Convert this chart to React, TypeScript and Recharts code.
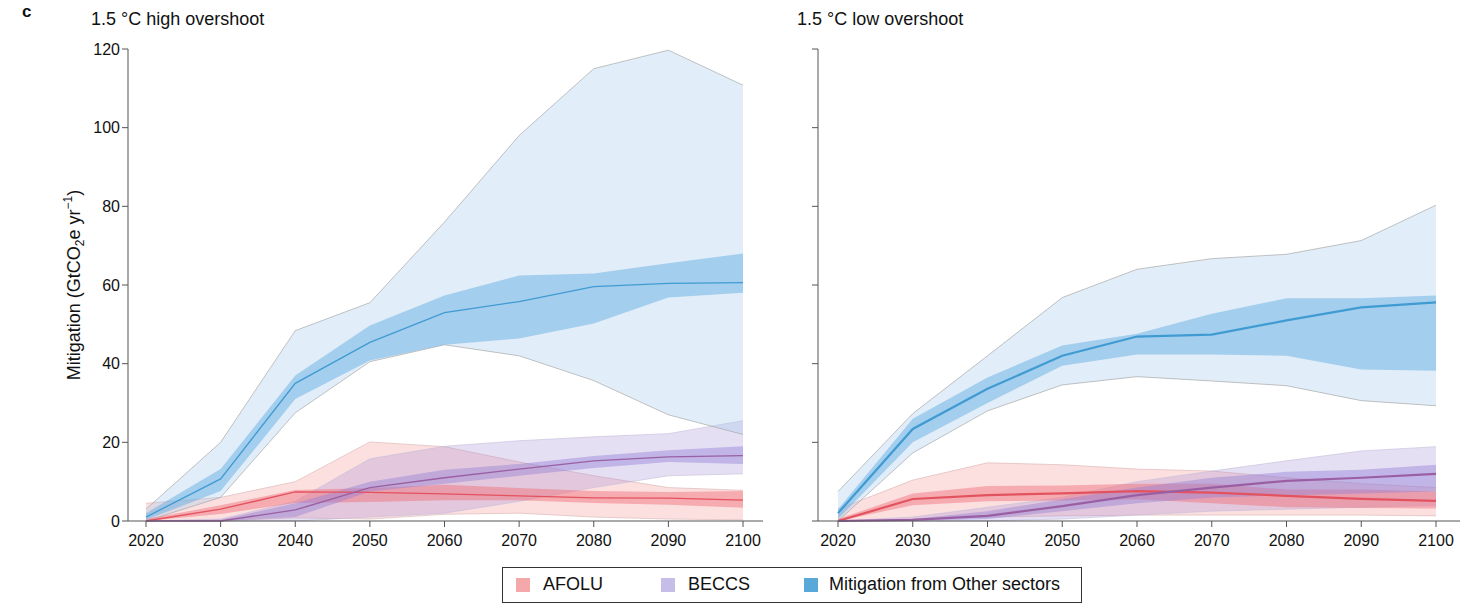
import { ComposedChart, Area, Line, XAxis, YAxis } from "recharts";

// decades shown on both panels
const years = [2020, 2030, 2040, 2050, 2060, 2070, 2080, 2090, 2100];

// 1.5 °C high overshoot
const hiOtherMin = [0, 6, 27.5, 40.5, 44.8, 42, 35.7, 27, 22];
const hiOtherMax = [3, 20, 48.4, 55.5, 76, 98, 115, 119.7, 110.8];
const hiOtherLo = [0.3, 7.6, 31, 40.8, 44.8, 46.4, 50.2, 56.8, 58];
const hiOtherHi = [2, 13.2, 37, 49.7, 57.3, 62.4, 62.9, 65.5, 68];
const hiOtherMed = [1, 10.7, 35, 45.4, 53, 55.8, 59.6, 60.4, 60.6];

const hiAfoluMin = [0, 0, 0.8, 0.5, 1.7, 2, 1, 0.5, 0.3];
const hiAfoluMax = [4.5, 6, 10, 20.1, 18.9, 15, 11.5, 8.5, 7.8];
const hiAfoluLo = [0, 1.8, 4.6, 4.8, 5.3, 5.3, 4.6, 4.1, 3.4];
const hiAfoluHi = [0.5, 4, 7.9, 8.4, 9.2, 8.4, 7.6, 7.4, 7.6];
const hiAfoluMed = [0, 3, 7.4, 7.3, 6.9, 6.4, 5.9, 5.8, 5.3];

const hiBeccsMin = [0, 0, 0, 1, 2, 5, 8.5, 11.5, 12];
const hiBeccsMax = [0, 0.5, 5, 15.8, 19, 20.4, 21.4, 22.2, 25.5];
const hiBeccsLo = [0, 0, 1, 7.5, 9.5, 11.5, 13.5, 15, 14.5];
const hiBeccsHi = [0, 0.3, 4.5, 10, 13, 14.5, 16.5, 18, 19];
const hiBeccsMed = [0, 0, 2.8, 8.5, 11, 13.2, 15.3, 16.3, 16.6];

// 1.5 °C low overshoot
const loOtherMin = [0, 17.3, 28, 34.6, 36.7, 35.6, 34.4, 30.6, 29.3];
const loOtherMax = [7.5, 27.3, 42, 56.8, 64, 66.7, 67.8, 71.3, 80.3];
const loOtherLo = [0.5, 20, 30, 39.5, 42.3, 42.3, 42, 38.5, 38.2];
const loOtherHi = [3, 26, 36.5, 44.6, 47.6, 52.7, 56.6, 56.6, 57.3];
const loOtherMed = [2, 23.4, 33.6, 42, 46.9, 47.4, 51, 54.3, 55.6];

const loAfoluMin = [0, 0.5, 1, 1.3, 1.5, 1.5, 1.5, 1.5, 1.3];
const loAfoluMax = [3, 10.4, 14.8, 14.3, 13.2, 12.7, 11, 9.5, 8.5];
const loAfoluLo = [0, 4, 5, 5.2, 5.5, 4.5, 3.5, 3.3, 3.2];
const loAfoluHi = [0.5, 7, 8.9, 9, 9.5, 9.5, 8, 8, 7.5];
const loAfoluMed = [0, 5.6, 6.6, 7, 7.6, 7.2, 6.4, 5.6, 5.1];

const loBeccsMin = [0, 0, 0, 0.5, 1.5, 2.5, 3, 3.5, 4];
const loBeccsMax = [0, 1, 3.5, 6, 10, 12.7, 15.3, 17.8, 18.9];
const loBeccsLo = [0, 0, 0.5, 2.5, 4.5, 6, 6.5, 7, 7.5];
const loBeccsHi = [0, 0.5, 2.5, 5.5, 8.5, 11, 12.5, 13, 14.3];
const loBeccsMed = [0, 0.3, 1.3, 3.8, 6.6, 8.5, 10.2, 11, 12];

const yTicks = [0, 20, 40, 60, 80, 100, 120];
const FONT = '"Liberation Sans", Arial, Helvetica, sans-serif';
const AXIS = "#555";

const buildRows = (s: any) =>
  years.map((year, i) => ({
    year,
    otherRange: [s.otherMin[i], s.otherMax[i]],
    otherIqr: [s.otherLo[i], s.otherHi[i]],
    otherMed: s.otherMed[i],
    afoluRange: [s.afoluMin[i], s.afoluMax[i]],
    afoluIqr: [s.afoluLo[i], s.afoluHi[i]],
    afoluMed: s.afoluMed[i],
    beccsRange: [s.beccsMin[i], s.beccsMax[i]],
    beccsIqr: [s.beccsLo[i], s.beccsHi[i]],
    beccsMed: s.beccsMed[i],
  }));

const highData = buildRows({
  otherMin: hiOtherMin, otherMax: hiOtherMax, otherLo: hiOtherLo, otherHi: hiOtherHi, otherMed: hiOtherMed,
  afoluMin: hiAfoluMin, afoluMax: hiAfoluMax, afoluLo: hiAfoluLo, afoluHi: hiAfoluHi, afoluMed: hiAfoluMed,
  beccsMin: hiBeccsMin, beccsMax: hiBeccsMax, beccsLo: hiBeccsLo, beccsHi: hiBeccsHi, beccsMed: hiBeccsMed,
});

const lowData = buildRows({
  otherMin: loOtherMin, otherMax: loOtherMax, otherLo: loOtherLo, otherHi: loOtherHi, otherMed: loOtherMed,
  afoluMin: loAfoluMin, afoluMax: loAfoluMax, afoluLo: loAfoluLo, afoluHi: loAfoluHi, afoluMed: loAfoluMed,
  beccsMin: loBeccsMin, beccsMax: loBeccsMax, beccsLo: loBeccsLo, beccsHi: loBeccsHi, beccsMed: loBeccsMed,
});

interface PanelProps {
  data: any[];
  width: number;
  yWidth: number;
  marginRight: number;
  pad: { left: number; right: number };
  showYLabels: boolean;
  lineWidth: number;
}

const Panel = ({ data, width, yWidth, marginRight, pad, showYLabels, lineWidth }: PanelProps) => (
  <ComposedChart
    width={width}
    height={570}
    data={data}
    margin={{ top: 49, right: marginRight, left: 0, bottom: 0 }}
  >
    <XAxis
      dataKey="year"
      type="number"
      domain={[2020, 2100]}
      ticks={years}
      padding={pad}
      stroke={AXIS}
      tickSize={6}
      tickMargin={8}
      height={49}
      tick={{ fill: "#111", fontSize: 16, fontFamily: FONT }}
    />
    <XAxis xAxisId="top" orientation="top" type="number" domain={[2020, 2100]} height={0} tick={false} tickLine={false} stroke={AXIS} />
    <YAxis
      type="number"
      domain={[0, 120]}
      ticks={yTicks}
      width={yWidth}
      stroke={AXIS}
      tickSize={6}
      tickMargin={2}
      tickFormatter={(v: number) => (showYLabels ? String(v) : "")}
      tick={{ fill: "#111", fontSize: 16, fontFamily: FONT }}
    />
    <YAxis yAxisId="right" orientation="right" domain={[0, 120]} width={0} tick={false} tickLine={false} stroke={AXIS} />

    {/* full ranges */}
    <Area dataKey="afoluRange" type="linear" fill="#f48f8f" fillOpacity={0.28} stroke="#d9b0b0" strokeWidth={0.6} dot={false} activeDot={false} isAnimationActive={false} />
    <Area dataKey="beccsRange" type="linear" fill="#a08bd8" fillOpacity={0.28} stroke="#c4bcd8" strokeWidth={0.6} dot={false} activeDot={false} isAnimationActive={false} />
    <Area dataKey="otherRange" type="linear" fill="#a3c9ec" fillOpacity={0.32} stroke="#a8a8a8" strokeWidth={0.7} dot={false} activeDot={false} isAnimationActive={false} />

    {/* interquartile ranges */}
    <Area dataKey="afoluIqr" type="linear" fill="#f06a76" fillOpacity={0.45} stroke="none" dot={false} activeDot={false} isAnimationActive={false} />
    <Area dataKey="beccsIqr" type="linear" fill="#9580d4" fillOpacity={0.45} stroke="none" dot={false} activeDot={false} isAnimationActive={false} />
    <Area dataKey="otherIqr" type="linear" fill="#68aee2" fillOpacity={0.5} stroke="none" dot={false} activeDot={false} isAnimationActive={false} />

    {/* medians */}
    <Line dataKey="afoluMed" type="linear" stroke="#e3525f" strokeWidth={lineWidth} dot={false} activeDot={false} isAnimationActive={false} />
    <Line dataKey="beccsMed" type="linear" stroke="#9a5fa3" strokeWidth={lineWidth} dot={false} activeDot={false} isAnimationActive={false} />
    <Line dataKey="otherMed" type="linear" stroke="#3f9bd2" strokeWidth={lineWidth} dot={false} activeDot={false} isAnimationActive={false} />
  </ComposedChart>
);

const legendItems = [
  { label: "AFOLU", color: "#f5a8a9", swatchX: 13, textX: 40 },
  { label: "BECCS", color: "#c7bde9", swatchX: 158, textX: 185 },
  { label: "Mitigation from Other sectors", color: "#58a9d9", swatchX: 301, textX: 326 },
];

const App = () => (
  <div style={{ position: "absolute", left: 0, top: 0, width: 1476, height: 605, background: "#fff", fontFamily: FONT, color: "#111" }}>
    <div style={{ position: "absolute", left: 22, top: 2, fontSize: 17, fontWeight: 700 }}>c</div>
    <div style={{ position: "absolute", left: 91, top: 9, fontSize: 18 }}>1.5 °C high overshoot</div>
    <div style={{ position: "absolute", left: 797, top: 9, fontSize: 18 }}>1.5 °C low overshoot</div>

    <div style={{ position: "absolute", left: 0, top: 0 }}>
      <Panel data={highData} width={780} yWidth={128} marginRight={17} pad={{ left: 18, right: 20 }} showYLabels lineWidth={1.3} />
    </div>
    <div style={{ position: "absolute", left: 780, top: 0 }}>
      <Panel data={lowData} width={696} yWidth={38} marginRight={16} pad={{ left: 20, right: 24 }} showYLabels={false} lineWidth={2.2} />
    </div>

    <svg style={{ position: "absolute", left: 0, top: 0 }} width={110} height={520}>
      <text transform="translate(80,285) rotate(-90)" textAnchor="middle" fontSize={18} fontFamily={FONT} fill="#111">
        Mitigation (GtCO
        <tspan fontSize={12} dy={4}>2</tspan>
        <tspan dy={-4}>e yr</tspan>
        <tspan fontSize={12} dy={-8}>−1</tspan>
        <tspan dy={8}>)</tspan>
      </text>
    </svg>

    <div
      style={{
        position: "absolute",
        left: 502,
        top: 567,
        width: 580,
        height: 36,
        border: "1px solid #333",
        fontSize: 18,
        boxSizing: "border-box",
      }}
    >
      {legendItems.map((it) => (
        <div key={it.label}>
          <span style={{ position: "absolute", left: it.swatchX, top: 10, width: 14, height: 14, background: it.color }} />
          <span style={{ position: "absolute", left: it.textX, top: 6, whiteSpace: "nowrap" }}>{it.label}</span>
        </div>
      ))}
    </div>
  </div>
);

export default App;
